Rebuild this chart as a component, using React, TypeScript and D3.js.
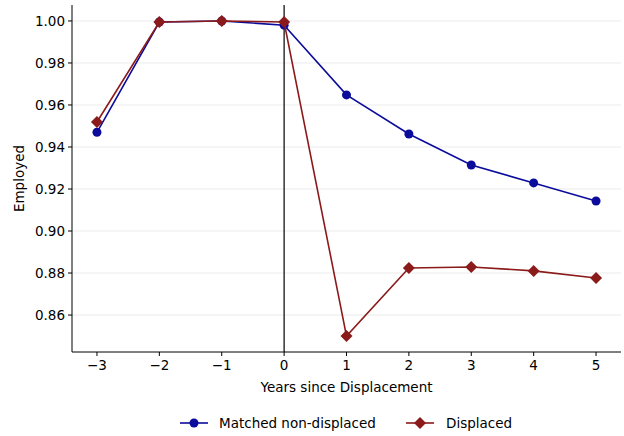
import React from "react";
import * as d3 from "d3";

const years = [-3, -2, -1, 0, 1, 2, 3, 4, 5];
const matched = [0.947, 0.9995, 1.0, 0.998, 0.9648, 0.9462, 0.9314, 0.9229, 0.9143];
const displaced = [0.9519, 0.9995, 1.0, 0.9995, 0.85, 0.8824, 0.8829, 0.881, 0.8776];
const yTicks = [0.86, 0.88, 0.9, 0.92, 0.94, 0.96, 0.98, 1.0];
const xTicks = [-3, -2, -1, 0, 1, 2, 3, 4, 5];

export default function App() {
  const W = 624, H = 436;
  const L = 72, R = 621, T = 5, B = 352;
  const x = d3.scaleLinear().domain([-3.4, 5.4]).range([L, R]);
  const y = d3.scaleLinear().domain([0.8424, 1.0076]).range([B, T]);
  const line = d3.line<number>().x((_, i) => x(years[i])).y((d) => y(d));
  const blue = "#0c0c9c";
  const red = "#8b1a1a";
  const font = "DejaVu Sans";
  const fs = 13.5;
  const fmt = (v: number) => (v < 0 ? "\u2212" + Math.abs(v) : String(v));
  const diamond = (cx: number, cy: number, s = 6) =>
    `M${cx},${cy - s}L${cx + s},${cy}L${cx},${cy + s}L${cx - s},${cy}Z`;
  return (
    <svg width={W} height={H} style={{ position: "absolute", left: 0, top: 0 }} fontFamily={font}>
      {yTicks.map((t) => (
        <g key={t}>
          <line x1={L} x2={R} y1={y(t)} y2={y(t)} stroke="#e6e6e6" strokeWidth={0.8} />
          <line x1={L - 4} x2={L} y1={y(t)} y2={y(t)} stroke="#000" />
          <text x={L - 7} y={y(t)} dy="0.35em" textAnchor="end" fontSize={fs}>{t.toFixed(2)}</text>
        </g>
      ))}
      {xTicks.map((t) => (
        <g key={t}>
          <line x1={x(t)} x2={x(t)} y1={B} y2={B + 4} stroke="#000" />
          <text x={x(t)} y={B + 18} textAnchor="middle" fontSize={fs}>{fmt(t)}</text>
        </g>
      ))}
      <line x1={x(0)} x2={x(0)} y1={T} y2={B} stroke="#000" strokeWidth={1.2} />
      <line x1={L} x2={L} y1={T} y2={B} stroke="#000" />
      <line x1={L} x2={R} y1={B} y2={B} stroke="#000" />
      <path d={line(matched)!} fill="none" stroke={blue} strokeWidth={1.6} />
      {matched.map((v, i) => <circle key={i} cx={x(years[i])} cy={y(v)} r={4.5} fill={blue} />)}
      <path d={line(displaced)!} fill="none" stroke={red} strokeWidth={1.6} />
      {displaced.map((v, i) => <path key={i} d={diamond(x(years[i]), y(v))} fill={red} />)}
      <text x={(L + R) / 2} y={392} textAnchor="middle" fontSize={fs}>Years since Displacement</text>
      <text transform={`translate(24,${(T + B) / 2}) rotate(-90)`} textAnchor="middle" fontSize={fs}>Employed</text>
      <g>
        <line x1={180} x2={208} y1={423} y2={423} stroke={blue} strokeWidth={1.6} />
        <circle cx={194} cy={423} r={4.5} fill={blue} />
        <text x={219} y={423} dy="0.35em" fontSize={fs}>Matched non-displaced</text>
        <line x1={406} x2={434} y1={423} y2={423} stroke={red} strokeWidth={1.6} />
        <path d={diamond(420, 423)} fill={red} />
        <text x={446} y={423} dy="0.35em" fontSize={fs}>Displaced</text>
      </g>
    </svg>
  );
}
